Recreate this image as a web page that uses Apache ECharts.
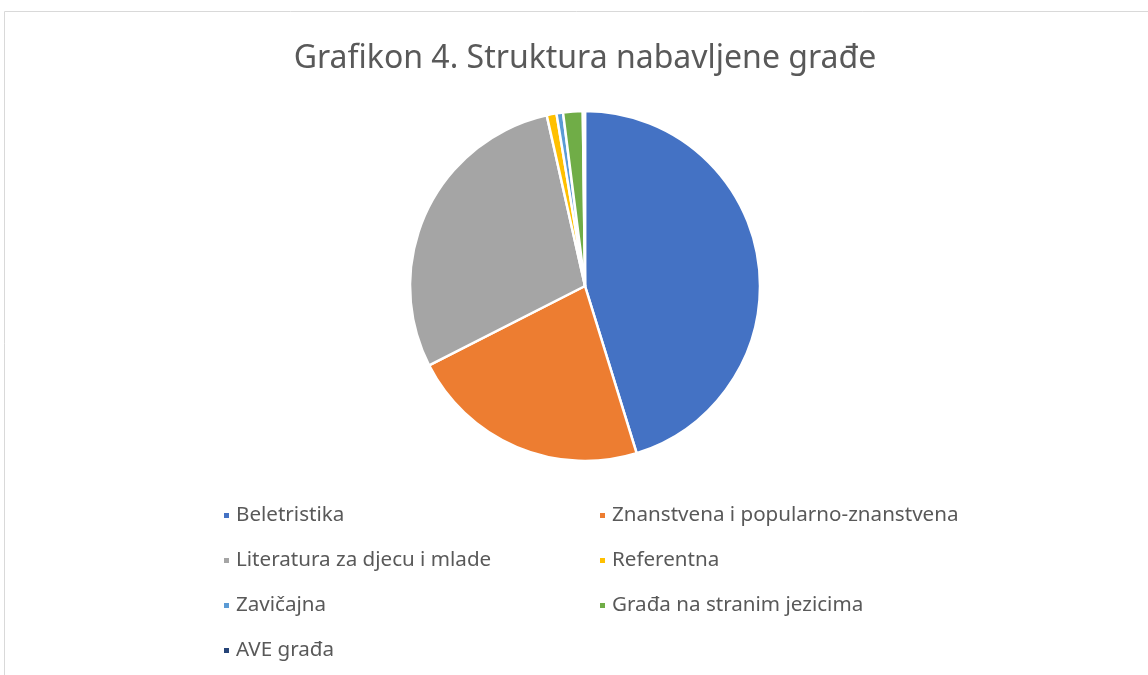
<!DOCTYPE html>
<html>
<head>
<meta charset="utf-8">
<script src="https://cdn.jsdelivr.net/npm/echarts@6/dist/echarts.min.js"></script>
<style>
  html, body { margin: 0; padding: 0; background: #fff; }
  #chart { width: 1148px; height: 675px; }
</style>
</head>
<body>
<div id="chart"></div>
<script>
// kategorije i udjeli (procjena iz slike)
const categories = [
  'Beletristika',
  'Znanstvena i popularno-znanstvena',
  'Literatura za djecu i mlade',
  'Referentna',
  'Zavičajna',
  'Građa na stranim jezicima',
  'AVE građa'
];
const shares = [45.1, 22.2, 28.9, 0.9, 0.6, 1.8, 0.2];
const colors = ['#4472C4', '#ED7D31', '#A5A5A5', '#FFC000', '#5B9BD5', '#70AD47', '#264478'];

const leftColumn = [categories[0], categories[2], categories[4], categories[6]];
const rightColumn = [categories[1], categories[3], categories[5]];

const chart = echarts.init(document.getElementById('chart'));

const legendBase = {
  orient: 'vertical',
  top: 500,
  icon: 'rect',
  itemWidth: 7,
  itemHeight: 7,
  itemGap: 24,
  selectedMode: false,
  textStyle: {
    fontFamily: 'Noto Sans',
    fontSize: 20.6,
    color: '#595959',
    padding: [0, 0, 0, 1]
  }
};

chart.setOption({
  animation: false,
  color: colors,
  title: {
    text: 'Grafikon 4. Struktura nabavljene građe',
    left: 580,
    textAlign: 'center',
    top: 38,
    textStyle: {
      fontFamily: 'Noto Sans',
      fontSize: 32,
      fontWeight: 'normal',
      color: '#595959'
    }
  },
  graphic: [{
    type: 'rect',
    shape: { x: 4.5, y: 11.5, width: 1200, height: 700 },
    style: { fill: 'none', stroke: '#d9d9d9', lineWidth: 1 },
    silent: true
  }],
  legend: [
    Object.assign({}, legendBase, { left: 217, data: leftColumn }),
    Object.assign({}, legendBase, { left: 593, data: rightColumn })
  ],
  series: [{
    type: 'pie',
    center: [585, 286],
    radius: 175,
    startAngle: 90,
    clockwise: true,
    label: { show: false },
    labelLine: { show: false },
    emphasis: { disabled: true },
    itemStyle: { borderColor: '#fff', borderWidth: 2.5 },
    data: categories.map((name, i) => ({ name: name, value: shares[i] }))
  }]
});
</script>
</body>
</html>
